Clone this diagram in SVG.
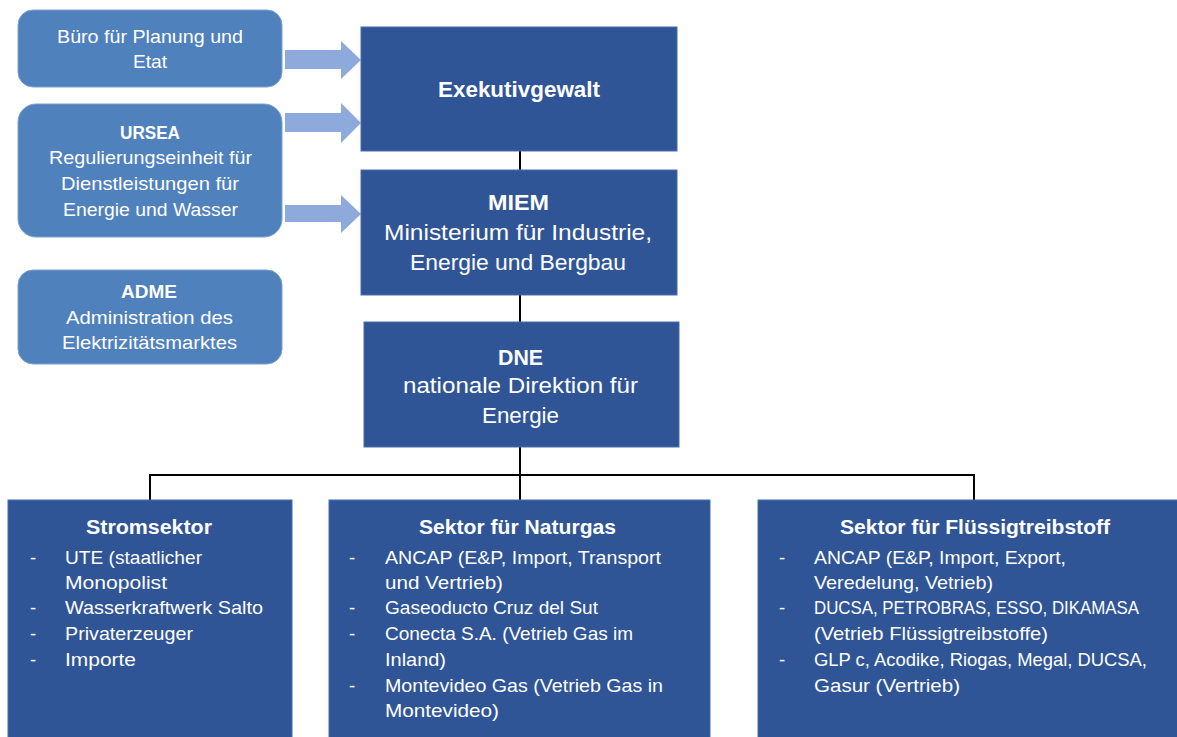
<svg xmlns="http://www.w3.org/2000/svg" width="1177" height="737" viewBox="0 0 1177 737">
<style>
text{font-family:"Liberation Sans",Arial,sans-serif;fill:#ffffff}
.side{fill:#4F81BD;stroke:#7FA0D0;stroke-width:1}
.main{fill:#2F5597;stroke:#4A6FAE;stroke-width:1}
.arrow{fill:#8EA9DB}
.t17{font-size:18.5px}
.t19{font-size:22px}
.h{font-size:20px}
.b{font-weight:bold}
.c{text-anchor:middle}
.conn{stroke:#000;stroke-width:2;fill:none}
</style>
<rect width="1177" height="737" fill="#ffffff"/>
<g id="connectors">
<path class="conn" d="M520 151V170M520 295V322M520 447V475M150 500V475H974V500M520 475V500"/>
<polygon class="arrow" points="285,50 341,50 341,41 361,60 341,79 341,69 285,69"/>
<polygon class="arrow" points="285,113 341,113 341,103 361,123 341,143 341,132 285,132"/>
<polygon class="arrow" points="285,205 341,205 341,195 361,214 341,233 341,222 285,222"/>
</g>
<g id="buero">
<rect class="side" x="18" y="10" width="264" height="77" rx="15"/>
<text class="t17" x="57" y="43" textLength="186" lengthAdjust="spacingAndGlyphs">Büro für Planung und</text>
<text class="t17" x="133" y="68" textLength="34" lengthAdjust="spacingAndGlyphs">Etat</text>
</g>
<g id="ursea">
<rect class="side" x="18" y="104" width="264" height="133" rx="18"/>
<text class="t17 b" x="120" y="139" textLength="60" lengthAdjust="spacingAndGlyphs">URSEA</text>
<text class="t17" x="49" y="164" textLength="203" lengthAdjust="spacingAndGlyphs">Regulierungseinheit für</text>
<text class="t17" x="61" y="190" textLength="178" lengthAdjust="spacingAndGlyphs">Dienstleistungen für</text>
<text class="t17" x="63" y="216" textLength="175" lengthAdjust="spacingAndGlyphs">Energie und Wasser</text>
</g>
<g id="adme">
<rect class="side" x="18" y="270" width="264" height="94" rx="15"/>
<text class="t17 b" x="121" y="298" textLength="56" lengthAdjust="spacingAndGlyphs">ADME</text>
<text class="t17" x="66" y="324" textLength="167" lengthAdjust="spacingAndGlyphs">Administration des</text>
<text class="t17" x="62" y="349" textLength="175" lengthAdjust="spacingAndGlyphs">Elektrizitätsmarktes</text>
</g>
<g id="exekutive">
<rect class="main" x="361" y="27" width="316" height="124"/>
<text class="t19 b" x="438" y="97" textLength="162" lengthAdjust="spacingAndGlyphs">Exekutivgewalt</text>
</g>
<g id="miem">
<rect class="main" x="361" y="170" width="316" height="125"/>
<text class="t19 b" x="488" y="210" textLength="61" lengthAdjust="spacingAndGlyphs">MIEM</text>
<text class="t19" x="384" y="240" textLength="268" lengthAdjust="spacingAndGlyphs">Ministerium für Industrie,</text>
<text class="t19" x="410" y="270" textLength="216" lengthAdjust="spacingAndGlyphs">Energie und Bergbau</text>
</g>
<g id="dne">
<rect class="main" x="364" y="322" width="315" height="125"/>
<text class="t19 b" x="498" y="365" textLength="45" lengthAdjust="spacingAndGlyphs">DNE</text>
<text class="t19" x="403" y="393" textLength="235" lengthAdjust="spacingAndGlyphs">nationale Direktion für</text>
<text class="t19" x="482" y="423" textLength="77" lengthAdjust="spacingAndGlyphs">Energie</text>
</g>
<g id="strom">
<rect class="main" x="8" y="500" width="284" height="240"/>
<text class="h b" x="86" y="534" textLength="126" lengthAdjust="spacingAndGlyphs">Stromsektor</text>
<g class="t17">
<text x="30" y="564">-</text><text x="65" y="564" textLength="137" lengthAdjust="spacingAndGlyphs">UTE (staatlicher</text>
<text x="65" y="589" textLength="102" lengthAdjust="spacingAndGlyphs">Monopolist</text>
<text x="30" y="614">-</text><text x="65" y="614" textLength="198" lengthAdjust="spacingAndGlyphs">Wasserkraftwerk Salto</text>
<text x="30" y="640">-</text><text x="65" y="640" textLength="128" lengthAdjust="spacingAndGlyphs">Privaterzeuger</text>
<text x="30" y="666">-</text><text x="65" y="666" textLength="71" lengthAdjust="spacingAndGlyphs">Importe</text>
</g>
</g>
<g id="naturgas">
<rect class="main" x="329" y="500" width="381" height="240"/>
<text class="h b" x="419" y="534" textLength="197" lengthAdjust="spacingAndGlyphs">Sektor für Naturgas</text>
<g class="t17">
<text x="349" y="564">-</text><text x="385" y="564" textLength="276" lengthAdjust="spacingAndGlyphs">ANCAP (E&amp;P, Import, Transport</text>
<text x="385" y="589" textLength="118" lengthAdjust="spacingAndGlyphs">und Vertrieb)</text>
<text x="349" y="614">-</text><text x="385" y="614" textLength="213" lengthAdjust="spacingAndGlyphs">Gaseoducto Cruz del Sut</text>
<text x="349" y="640">-</text><text x="385" y="640" textLength="248" lengthAdjust="spacingAndGlyphs">Conecta S.A. (Vetrieb Gas im</text>
<text x="385" y="666" textLength="61" lengthAdjust="spacingAndGlyphs">Inland)</text>
<text x="349" y="692">-</text><text x="385" y="692" textLength="278" lengthAdjust="spacingAndGlyphs">Montevideo Gas (Vetrieb Gas in</text>
<text x="385" y="717" textLength="114" lengthAdjust="spacingAndGlyphs">Montevideo)</text>
</g>
</g>
<g id="fluessig">
<rect class="main" x="758" y="500" width="422" height="240"/>
<text class="h b" x="840" y="534" textLength="270" lengthAdjust="spacingAndGlyphs">Sektor für Flüssigtreibstoff</text>
<g class="t17">
<text x="779" y="564">-</text><text x="814" y="564" textLength="252" lengthAdjust="spacingAndGlyphs">ANCAP (E&amp;P, Import, Export,</text>
<text x="814" y="589" textLength="179" lengthAdjust="spacingAndGlyphs">Veredelung, Vetrieb)</text>
<text x="779" y="614">-</text><text x="814" y="614" textLength="325" lengthAdjust="spacingAndGlyphs">DUCSA, PETROBRAS, ESSO, DIKAMASA</text>
<text x="814" y="640" textLength="234" lengthAdjust="spacingAndGlyphs">(Vetrieb Flüssigtreibstoffe)</text>
<text x="779" y="666">-</text><text x="814" y="666" textLength="333" lengthAdjust="spacingAndGlyphs">GLP c, Acodike, Riogas, Megal, DUCSA,</text>
<text x="814" y="692" textLength="146" lengthAdjust="spacingAndGlyphs">Gasur (Vertrieb)</text>
</g>
</g>
</svg>
